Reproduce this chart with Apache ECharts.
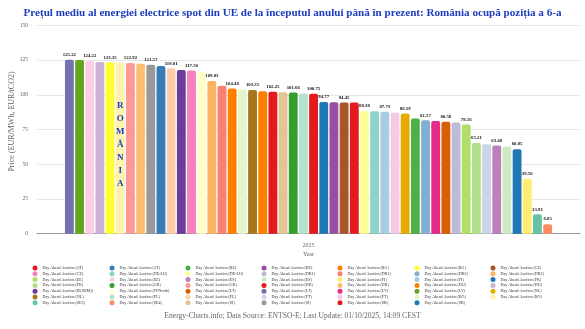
<!DOCTYPE html>
<html><head><meta charset="utf-8">
<script src="https://cdn.jsdelivr.net/npm/echarts@6/dist/echarts.min.js"></script>
<style>html,body{margin:0;padding:0;background:#fff}#c{width:585px;height:329px}</style>
</head><body><div id="c"></div>
<script>
const titleText = 'Prețul mediu al energiei electrice spot din UE de la începutul anului până în prezent: România ocupă poziția a 6-a';
const sourceText = 'Energy-Charts.info; Data Source: ENTSO-E; Last Update: 01/10/2025, 14:09 CEST';
const yAxisName = 'Price (EUR/MWh, EUR/tCO2)';
const xAxisName = 'Year';
const categories = ['2025'];
const highlightText = 'ROMÂNIA';

// Legend entries (alphabetical, as in the reference)
const legendZones = ['AT','AT','BE','BE','BG','BG','CZ','CZ','DE-LU','DE-LU','DK1','DK1','DK2','DK2','EE','EE','ES','ES','FI','FI','FR','FR','GR','GR','HR','HR','HU','HU','IE(SEM)','IT-North','LT','LT','LV','LV','NL','NL','PL','PL','PT','PT','RO','RO','SE3','SE4','SI','SI','SK','SK'];
const legendSets  = [1,2,1,2,1,2,1,2,1,2,1,2,1,2,1,2,1,2,1,2,1,2,1,2,1,2,1,2,1,1,1,2,1,2,1,2,1,2,1,2,1,2,1,1,1,2,1,2];
const legendColors = ['#e41a1c','#377eb8','#4daf4a','#984ea3','#ff7f00','#ffff33','#a65628','#f781bf','#8dd3c7','#ffff99','#bebada','#fb8072','#80b1d3','#fdb462','#b3de69','#fccde5','#bc80bd','#ccebc5','#ffed6f','#a6cee3','#1f78b4','#b2df8a','#33a02c','#fb9a99','#e31a1c','#fdbf6f','#ff7f00','#cab2d6','#6a3d9a','#ffffcc','#d95f02','#7570b3','#e7298a','#66a61e','#e6ab02','#a6761d','#b3e2cd','#fdcdac','#cbd5e8','#f4cae4','#e6f5c9','#fff2ae','#66c2a5','#fc8d62','#e5c494','#999999','#e41a1c','#1f78b4'];

// Bars in drawing order (descending)
const barZones = ['LT','LV','EE','HU','BG','RO','GR','HR','SI','AT','PL','IE(SEM)','CZ','IT-North','DK2','DK1','BG','RO','NL','HU','HR','SI','GR','PL','AT','SK','BE','CZ','SK','DE-LU','DE-LU','FI','PT','NL','BE','DK2','LV','LT','DK1','EE','FR','PT','ES','ES','FR','FI','SE3','SE4'];
const barSets  = [2,2,2,2,2,2,2,2,2,2,2,1,2,1,2,2,1,1,2,1,1,1,1,1,1,2,2,1,1,2,1,2,2,1,1,1,1,1,1,1,2,1,1,2,1,1,1,1];
const barValues = [125.22,124.95,124.22,123.6,123.35,123.30,122.92,122.3,121.57,120.7,119.01,117.8,117.50,116.3,109.83,106.5,104.48,103.9,103.35,102.6,102.25,101.9,101.66,100.95,100.75,94.77,94.6,94.45,94.4,88.38,88.1,87.73,87.0,86.59,83.0,81.57,81.1,80.58,80.1,78.56,65.21,64.3,63.48,62.7,60.85,39.56,13.91,6.85];
const highlightZone = 'RO', highlightSet = 2;

const nameOf = (z, s) => 'Day Ahead Auction (' + z + ')' + (s === 2 ? ' ' : '');
const SERIF = "'Liberation Serif', 'Times New Roman', serif";
const BLUE = '#1c3cbc';

const series = barZones.map((z, i) => {
  const s = barSets[i];
  const li = legendZones.findIndex((lz, k) => lz === z && legendSets[k] === s);
  const isHL = z === highlightZone && s === highlightSet;
  const ser = {
    type: 'bar', name: nameOf(z, s), data: [barValues[i]],
    itemStyle: { color: legendColors[li], borderRadius: [2, 2, 0, 0] },
    barGap: '15%', barCategoryGap: '10.3%',
    label: {
      show: true, position: 'top', distance: 1.5,
      formatter: p => p.value.toFixed(2),
      fontFamily: SERIF, fontWeight: 'bold', fontSize: 4.8, lineHeight: 7, color: '#111'
    },
    labelLayout: { hideOverlap: true }
  };
  if (isHL) {
    ser.label = {
      show: true, position: 'insideTop', distance: 37,
      formatter: highlightText.split('').join('\n'),
      fontFamily: SERIF, fontWeight: 'bold', fontSize: 9, lineHeight: 13, color: BLUE
    };
    ser.labelLayout = { hideOverlap: false };
  }
  return ser;
});

const colLefts = [32.5, 109.5, 185.5, 261.5, 337.5, 414.5, 490.5];
const legends = colLefts.map((left, c) => {
  const data = [];
  for (let r = 0; r < 7; r++) { const k = r * 7 + c; if (k < legendZones.length) data.push(nameOf(legendZones[k], legendSets[k])); }
  return {
    orient: 'vertical', left: left, top: 265.5, itemWidth: 5, itemHeight: 5, itemGap: 0.8,
    icon: 'circle', padding: 0, selectedMode: false, data: data,
    textStyle: { fontFamily: SERIF, fontSize: 4, lineHeight: 5, color: '#333', padding: [0, 0, 0, 0] }
  };
});

const chart = echarts.init(document.getElementById('c'), null, { renderer: 'canvas' });
chart.setOption({
  animation: false,
  backgroundColor: '#fff',
  title: { text: titleText, left: 'center', top: 3,
    textStyle: { fontFamily: SERIF, fontWeight: 'bold', fontSize: 11.1, color: BLUE } },
  legend: legends,
  grid: { left: 37, right: 5, top: 25.3, bottom: 95.3, containLabel: false, outerBoundsMode: 'none' },
  xAxis: {
    type: 'category', data: categories,
    name: xAxisName, nameLocation: 'middle', nameGap: 18, nameMoveOverlap: false,
    nameTextStyle: { fontFamily: SERIF, fontSize: 6, color: '#666' },
    axisLine: { lineStyle: { color: '#999', width: 1 } },
    axisTick: { show: false },
    axisLabel: { fontFamily: SERIF, fontSize: 6, color: '#666', margin: 9 }
  },
  yAxis: {
    type: 'value', min: 0, max: 150, interval: 25,
    name: yAxisName, nameLocation: 'middle', nameGap: 21, nameMoveOverlap: false,
    nameTextStyle: { fontFamily: SERIF, fontSize: 8, color: '#666', padding: [0, 0, 0, 16] },
    axisLine: { show: false }, axisTick: { show: false },
    axisLabel: { fontFamily: SERIF, fontSize: 5.5, color: '#666', margin: 9 },
    splitLine: { lineStyle: { color: '#e6e6e6', width: 1 } }
  },
  graphic: [{ type: 'text', left: 'center', top: 312,
    style: { text: sourceText, fontFamily: SERIF, fontSize: 7.6, fill: '#666' } }],
  series: series
});
</script></body></html>
